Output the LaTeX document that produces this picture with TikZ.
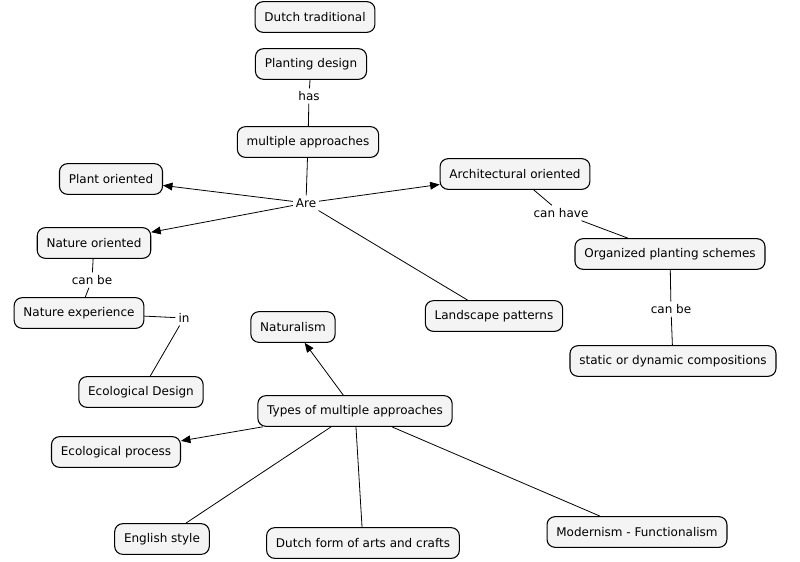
\documentclass[tikz,border=0pt]{standalone}
\usepackage{fontspec}
\setmainfont{DejaVu Sans}
\usetikzlibrary{arrows}

\begin{document}
\begin{tikzpicture}[x=0.75pt, y=-0.75pt, >=triangle 45, semithick,
    concept/.style={draw, thick, rounded corners=6pt, fill=blue!4!gray!8, minimum height=23pt, inner xsep=7pt, font=\fontsize{9}{11}\selectfont},
    link/.style={inner sep=2pt, font=\fontsize{9}{11}\selectfont}]
    \useasboundingbox (0,0) rectangle (800,561);
    	\node[concept] (dutch) at (315,17) {Dutch traditional};
    	\node[concept] (plant) at (311,64) {Planting design};
    	\node[link] (has) at (309,96) {has};
    	\node[concept] (multi) at (308,142) {multiple approaches};
    	\node[link] (are) at (306,203) {Are};
    	\node[concept] (plantor) at (111,179) {Plant oriented};
    	\node[concept] (arch) at (515,174) {Architectural oriented};
    	\node[concept] (natur) at (94,243) {Nature oriented};
    	\node[link] (canbe1) at (92,280) {can be};
    	\node[concept] (natexp) at (79,313) {Nature experience};
    	\node[link] (in) at (184,318) {in};
    	\node[concept] (ecodes) at (141,392) {Ecological Design};
    	\node[concept] (naturalism) at (293,327) {Naturalism};
    	\node[concept] (land) at (494,316) {Landscape patterns};
    	\node[link] (canhave) at (561,213) {can have};
    	\node[concept] (organized) at (670,254) {Organized planting schemes};
    	\node[link] (canbe2) at (671,309) {can be};
    	\node[concept] (static) at (673,361) {static or dynamic compositions};
    	\node[concept] (types) at (355,411) {Types of multiple approaches};
    	\node[concept] (ecoproc) at (116,452) {Ecological process};
    	\node[concept] (english) at (162,539) {English style};
    	\node[concept] (dutchform) at (363,543) {Dutch form of arts and crafts};
    	\node[concept] (modern) at (637,532) {Modernism - Functionalism};
    	\draw (plant) -- (has) -- (multi) -- (are);
    	\draw[->] (are) -- (plantor);
    	\draw[->] (are) -- (natur);
    	\draw[->] (are) -- (arch);
    	\draw (are) -- (land);
    	\draw (arch) -- (canhave) -- (organized) -- (canbe2) -- (static);
    	\draw (natur) -- (canbe1) -- (natexp) -- (in) -- (ecodes);
    	\draw[->] (types) -- (naturalism);
    	\draw[->] (types) -- (ecoproc);
    	\draw (types) -- (english);
    	\draw (types) -- (dutchform);
    	\draw (types) -- (modern);
\end{tikzpicture}
\end{document}
